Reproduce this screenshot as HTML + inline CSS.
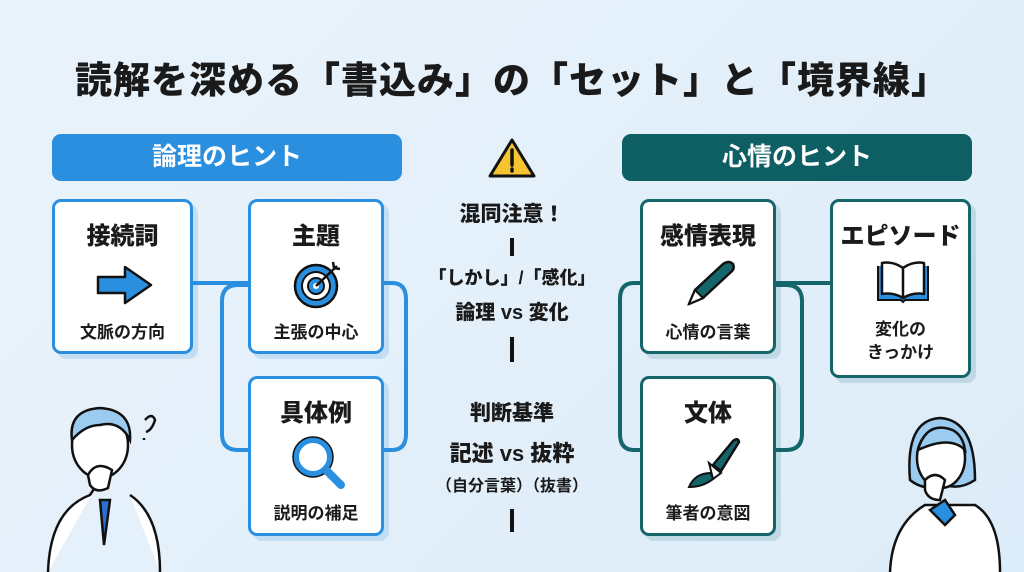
<!DOCTYPE html>
<html><head><meta charset="utf-8"><style>
*{margin:0;padding:0;box-sizing:border-box}
body{width:1024px;height:572px;overflow:hidden;background:linear-gradient(135deg,#eaf3fb,#dcecf8);font-family:"Liberation Sans","Noto Sans CJK JP",sans-serif;color:#1a1a1a;position:relative}
.a{position:absolute}
.t{left:0;width:1024px;top:50px;text-align:center;font-size:37px;font-weight:900;letter-spacing:1px}
.h{height:47px;border-radius:9px;color:#fff;font-size:25px;font-weight:700;text-align:center;line-height:47px;top:134px}
.b{background:#fff;border:3px solid #2b8fe0;border-radius:9px;box-shadow:5px 5px 0 rgba(43,143,224,.18);text-align:center}
.g{border-color:#14666a;box-shadow:5px 5px 0 rgba(20,102,106,.15)}
.b .n{font-size:24px;font-weight:800;margin-top:14px}
.b .s{font-size:17px;font-weight:700;position:absolute;left:0;right:0}
.c{left:412px;width:200px;text-align:center;font-weight:800}
</style></head><body>
<div class="a t">読解を深める「書込み」の「セット」と「境界線」</div>
<div class="a h" style="left:52px;width:350px;background:#2b8fe0">論理のヒント</div>
<div class="a h" style="left:622px;width:350px;background:#0e5f63">心情のヒント</div>

<svg class="a" style="left:0;top:0" width="1024" height="572">
<g fill="none" stroke="#2b8fe0" stroke-width="4">
<path d="M193 283H248"/>
<path d="M248 285H238Q222 285 222 301V434Q222 450 238 450H248"/>
<path d="M384 283H392Q406 283 406 299V434Q406 450 392 450H384"/>
</g>
<g fill="none" stroke="#14666a" stroke-width="4">
<path d="M776 283H830"/>
<path d="M640 283H634Q620 283 620 299V434Q620 450 634 450H640"/>
<path d="M776 285H786Q802 285 802 301V434Q802 450 786 450H776"/>
</g>
<g stroke="#111" stroke-width="4"><path d="M512 238V256M512 337V362M512 509V532"/></g>
<path d="M512 140L534 176H490Z" fill="#f6c431" stroke="#111" stroke-width="3" stroke-linejoin="round"/>
<path d="M512 150V165M512 169V171" stroke="#111" stroke-width="3.5" stroke-linecap="round"/>
<!-- man -->
<g stroke="#111" stroke-width="2.5" fill="none">
<path d="M48 572Q50 510 90 495L100 480M160 572Q160 515 130 495" fill="#fff"/>
<path d="M100 500L104 545L110 500Z" fill="#2b6fd0"/>
<ellipse cx="100" cy="445" rx="28" ry="33" fill="#fff"/>
<path d="M72 440Q68 410 100 408Q132 410 130 440Q120 420 100 425Q85 425 72 440Z" fill="#9ccbf0"/>
<path d="M88 475Q96 460 112 470L108 488Q96 494 90 485Z" fill="#fff"/>
<path d="M145 420Q152 412 155 420Q152 430 146 432M144 438v2"/>
</g>
<!-- woman -->
<g stroke="#111" stroke-width="2.5" fill="none">
<path d="M890 572Q892 525 925 505H975Q1000 520 1000 572" fill="#fff"/>
<path d="M910 480Q905 420 940 418Q975 420 975 480Q960 490 945 485Q925 492 910 480Z" fill="#9ccbf0"/>
<ellipse cx="941" cy="458" rx="24" ry="30" fill="#fff"/>
<path d="M918 450Q925 425 945 428Q962 430 965 450Q950 435 918 450Z" fill="#9ccbf0"/>
<path d="M930 510L945 500L955 515L945 525Z" fill="#2b8fe0"/>
<path d="M925 480Q935 470 945 480L940 500Q928 500 925 490Z" fill="#fff"/>
</g>
</svg>

<div class="a b" style="left:52px;top:199px;width:141px;height:155px"><div class="n">接続詞</div>
<svg class="a" style="left:40px;top:62px" width="60" height="42"><path d="M3 13H30V3L56 21L30 39V29H3Z" fill="#2b8fe0" stroke="#111" stroke-width="2.5" stroke-linejoin="round"/></svg>
<div class="s" style="top:116px">文脈の方向</div></div>
<div class="a b" style="left:248px;top:199px;width:136px;height:155px"><div class="n">主題</div>
<svg class="a" style="left:42px;top:56px" width="52" height="52"><circle cx="23" cy="28" r="21" fill="#2b8fe0" stroke="#111" stroke-width="2.5"/><circle cx="23" cy="28" r="14" fill="#fff" stroke="#111" stroke-width="2"/><circle cx="23" cy="28" r="8" fill="#2b8fe0" stroke="#111" stroke-width="2"/><circle cx="23" cy="28" r="3" fill="#fff"/><path d="M23 28L44 8M40 4l1 6 6 1" stroke="#111" stroke-width="2.5" fill="none"/></svg>
<div class="s" style="top:116px">主張の中心</div></div>
<div class="a b" style="left:248px;top:376px;width:136px;height:160px"><div class="n">具体例</div>
<svg class="a" style="left:40px;top:56px" width="56" height="56"><circle cx="22" cy="22" r="17" fill="#fff" stroke="#2b8fe0" stroke-width="6"/><circle cx="22" cy="22" r="20" fill="none" stroke="#111" stroke-width="1.5"/><path d="M35 35L50 50" stroke="#2b8fe0" stroke-width="8" stroke-linecap="round"/></svg>
<div class="s" style="top:120px">説明の補足</div></div>

<div class="a b g" style="left:640px;top:199px;width:136px;height:155px"><div class="n">感情表現</div>
<svg class="a" style="left:40px;top:58px" width="56" height="50"><path d="M6 44L12 30L40 4Q46 0 50 4Q52 9 48 12L20 38Z" fill="#14666a" stroke="#111" stroke-width="2.5" stroke-linejoin="round"/><path d="M6 44L12 30L20 38Z" fill="#fff" stroke="#111" stroke-width="2"/></svg>
<div class="s" style="top:116px">心情の言葉</div></div>
<div class="a b g" style="left:640px;top:376px;width:136px;height:160px"><div class="n">文体</div>
<svg class="a" style="left:40px;top:56px" width="60" height="56"><path d="M30 30L50 6Q55 2 56 7L38 36Z" fill="#14666a" stroke="#111" stroke-width="2.5"/><path d="M26 28L38 38L30 44Z" fill="#fff" stroke="#111" stroke-width="2"/><path d="M28 38Q12 38 6 52Q20 52 30 44Z" fill="#14666a" stroke="#111" stroke-width="2"/></svg>
<div class="s" style="top:120px">筆者の意図</div></div>
<div class="a b g" style="left:830px;top:199px;width:141px;height:179px"><div class="n">エピソード</div>
<svg class="a" style="left:42px;top:58px" width="56" height="44"><path d="M3 6V40H26L28 42L30 40H53V6" fill="#2b8fe0" stroke="#111" stroke-width="2"/><path d="M7 3Q18 1 28 8V38Q18 32 7 34Z M49 3Q38 1 28 8V38Q38 32 49 34Z" fill="#fff" stroke="#111" stroke-width="2.5" stroke-linejoin="round"/></svg>
<div class="s" style="top:116px;line-height:23px">変化の<br>きっかけ</div></div>

<div class="a c" style="top:198px;font-size:21px">混同注意！</div>
<div class="a c" style="top:264px;font-size:18px">「しかし」/「感化」</div>
<div class="a c" style="top:296px;font-size:20px">論理 vs 変化</div>
<div class="a c" style="top:397px;font-size:21px">判断基準</div>
<div class="a c" style="top:436px;font-size:22px">記述 vs 抜粋</div>
<div class="a c" style="top:472px;font-size:16px;font-weight:700">（自分言葉）（抜書）</div>
</body></html>
